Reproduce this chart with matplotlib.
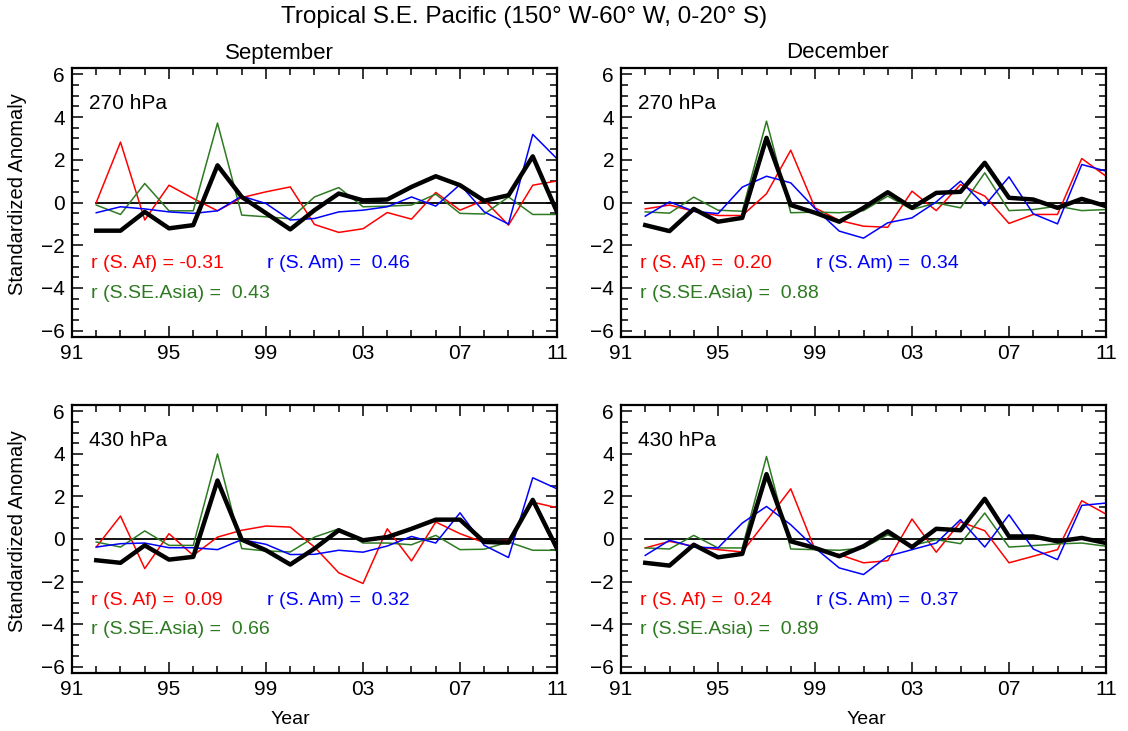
import numpy as np
import matplotlib
matplotlib.use("Agg")
from matplotlib import pyplot as plt
from matplotlib.ticker import MultipleLocator, FixedLocator

plt.rcParams['font.family'] = ['Liberation Sans', 'DejaVu Sans']

years = np.arange(1992, 2012)

# September, 270 hPa
sep270_pac = [-1.32, -1.32, -0.44, -1.21, -1.06, 1.74, 0.26, -0.50, -1.26, -0.36,
              0.42, 0.10, 0.14, 0.73, 1.23, 0.81, 0.08, 0.34, 2.16, -0.44]
sep270_af = [0.00, 2.83, -0.82, 0.81, 0.19, -0.39, 0.23, 0.50, 0.73, -1.03,
             -1.40, -1.23, -0.47, -0.78, 0.47, -0.36, 0.11, -1.06, 0.81, 1.01]
sep270_asia = [-0.12, -0.56, 0.89, -0.39, -0.39, 3.72, -0.59, -0.67, -0.76, 0.26,
               0.70, -0.20, -0.17, -0.12, 0.39, -0.51, -0.54, 0.26, -0.56, -0.56]
sep270_am = [-0.48, -0.20, -0.30, -0.44, -0.51, -0.39, 0.30, -0.05, -0.82, -0.75,
             -0.44, -0.36, -0.20, 0.26, -0.17, 0.84, -0.44, -1.01, 3.19, 2.05]

# December, 270 hPa
dec270_pac = [-1.06, -1.34, -0.30, -0.90, -0.72, 3.03, -0.12, -0.48, -0.90, -0.25,
              0.48, -0.25, 0.45, 0.50, 1.86, 0.22, 0.14, -0.25, 0.17, -0.17]
dec270_af = [-0.30, -0.12, -0.41, -0.61, -0.61, 0.41, 2.45, -0.25, -0.84, -1.11,
             -1.16, 0.53, -0.38, 0.84, 0.30, -0.98, -0.56, -0.56, 2.06, 1.23]
dec270_asia = [-0.44, -0.50, 0.25, -0.36, -0.41, 3.81, -0.48, -0.45, -0.48, -0.38,
               0.30, -0.33, -0.02, -0.25, 1.39, -0.38, -0.33, -0.17, -0.38, -0.33]
dec270_am = [-0.64, 0.03, -0.41, -0.52, 0.72, 1.23, 0.92, -0.28, -1.34, -1.67,
             -0.95, -0.72, 0.03, 1.00, -0.14, 1.20, -0.53, -1.00, 1.78, 1.47]

# September, 430 hPa
sep430_pac = [-1.00, -1.12, -0.30, -0.97, -0.84, 2.75, -0.03, -0.53, -1.20, -0.45,
              0.41, -0.06, 0.09, 0.48, 0.91, 0.91, -0.14, -0.17, 1.84, -0.45]
sep430_af = [-0.38, 1.08, -1.39, 0.25, -0.77, 0.09, 0.41, 0.61, 0.56, -0.38,
             -1.59, -2.09, 0.48, -1.03, 0.80, 0.25, -0.17, -0.06, 1.73, 1.47]
sep430_asia = [-0.14, -0.38, 0.38, -0.30, -0.30, 4.00, -0.45, -0.56, -0.61, 0.09,
               0.48, -0.19, -0.19, -0.27, 0.17, -0.50, -0.48, -0.14, -0.53, -0.53]
sep430_am = [-0.38, -0.22, -0.19, -0.41, -0.41, -0.50, -0.03, -0.25, -0.73, -0.72,
             -0.53, -0.62, -0.33, 0.12, -0.19, 1.23, -0.30, -0.87, 2.88, 2.36]

# December, 430 hPa
dec430_pac = [-1.12, -1.25, -0.27, -0.86, -0.70, 3.05, -0.11, -0.42, -0.81, -0.34,
              0.36, -0.38, 0.48, 0.41, 1.89, 0.12, 0.12, -0.11, 0.05, -0.19]
dec430_af = [-0.42, -0.11, -0.34, -0.50, -0.61, 0.86, 2.36, -0.50, -0.73, -1.12,
             -1.02, 0.94, -0.62, 0.80, 0.39, -1.12, -0.81, -0.50, 1.80, 1.17]
dec430_asia = [-0.42, -0.47, 0.17, -0.42, -0.42, 3.88, -0.47, -0.50, -0.53, -0.42,
               0.20, -0.31, -0.03, -0.22, 1.22, -0.38, -0.31, -0.23, -0.19, -0.34]
dec430_am = [-0.77, -0.06, -0.38, -0.42, 0.75, 1.53, 0.67, -0.42, -1.36, -1.67,
             -0.81, -0.50, -0.19, 0.91, -0.38, 1.14, -0.47, -0.97, 1.58, 1.69]

levels = ['270 hPa', '270 hPa', '430 hPa', '430 hPa']
r_af = ['-0.31', ' 0.20', ' 0.09', ' 0.24']
r_am = ['0.46', '0.34', '0.32', '0.37']
r_asia = ['0.43', '0.88', '0.66', '0.89']
xtick_vals = [1991, 1995, 1999, 2003, 2007, 2011]
xtick_labels = ['91', '95', '99', '03', '07', '11']

panels = [
    (sep270_pac, sep270_af, sep270_asia, sep270_am),
    (dec270_pac, dec270_af, dec270_asia, dec270_am),
    (sep430_pac, sep430_af, sep430_asia, sep430_am),
    (dec430_pac, dec430_af, dec430_asia, dec430_am),
]

W, H = 1128, 731
fig = plt.figure(figsize=(W / 100, H / 100), dpi=100)

# pixel boxes (left, top, right, bottom)
boxes = [(72, 68, 557, 337), (621, 68, 1106, 337),
         (72, 405, 557, 673), (621, 405, 1106, 673)]

RED = '#ff0000'
BLUE = '#0000ff'
GREEN = '#2e7a22'

for k, (l, t, r, b) in enumerate(boxes):
    ax = fig.add_axes([l / W, 1 - b / H, (r - l) / W, (b - t) / H])
    pac, af, asia, am = panels[k]
    ax.plot([years[0], years[-1]], [0, 0], color='black', lw=1.3)
    ax.plot(years, af, color=RED, lw=1.1)
    ax.plot(years, asia, color=GREEN, lw=1.1)
    ax.plot(years, am, color=BLUE, lw=1.1)
    ax.plot(years, pac, color='black', lw=3.2)

    ax.set_xlim(1991, 2011)
    ax.set_ylim(-6.3, 6.3)
    ax.xaxis.set_major_locator(FixedLocator(xtick_vals))
    ax.set_xticklabels(xtick_labels)
    ax.xaxis.set_minor_locator(MultipleLocator(1))
    ax.yaxis.set_major_locator(MultipleLocator(2))
    ax.yaxis.set_minor_locator(MultipleLocator(0.5))
    ax.tick_params(which='both', direction='in', top=True, right=True,
                   width=1.1, labelsize=15)
    ax.tick_params(which='major', length=8, pad=5)
    ax.tick_params(which='minor', length=5)
    for s in ax.spines.values():
        s.set_linewidth(1.6)

    ax.text(1991.7, 4.65, levels[k], fontsize=15, va='center', ha='left')
    ax.text(1991.78, -2.88, 'r (S. Af) = ' + r_af[k], color=RED,
            fontsize=14, va='center', ha='left')
    ax.text(1999.04, -2.88, 'r (S. Am) =  ' + r_am[k], color=BLUE,
            fontsize=14, va='center', ha='left')
    ax.text(1991.78, -4.25, 'r (S.SE.Asia) =  ' + r_asia[k], color=GREEN,
            fontsize=14, va='center', ha='left')

fig.text(524 / W, 1 - 17 / H, 'Tropical S.E. Pacific (150° W-60° W, 0-20° S)',
         fontsize=17.5, ha='center', va='center')
fig.text(279 / W, 1 - 53 / H, 'September', fontsize=16, ha='center', va='center')
fig.text(838 / W, 1 - 53 / H, 'December', fontsize=16, ha='center', va='center')
fig.text(18 / W, 1 - 194 / H, 'Standardized Anomaly', fontsize=14.5,
         rotation=90, ha='center', va='center')
fig.text(18 / W, 1 - 531 / H, 'Standardized Anomaly', fontsize=14.5,
         rotation=90, ha='center', va='center')
fig.text(290 / W, 1 - 720 / H, 'Year', fontsize=14, ha='center', va='center')
fig.text(866 / W, 1 - 720 / H, 'Year', fontsize=14, ha='center', va='center')

fig.savefig('out.png', dpi=100)
